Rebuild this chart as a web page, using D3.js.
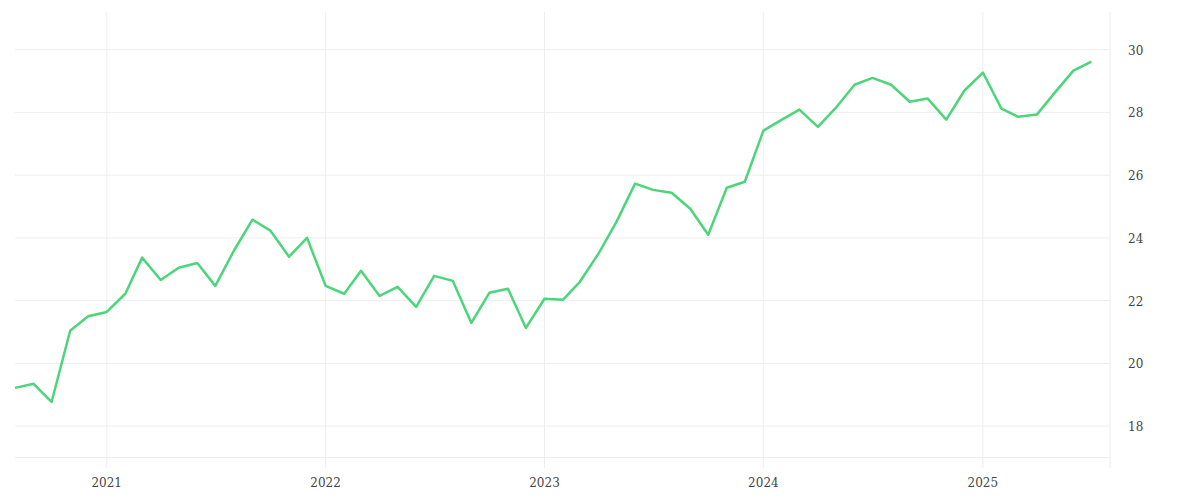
<!DOCTYPE html>
<html><head><meta charset="utf-8">
<script src="https://cdn.jsdelivr.net/npm/d3@7"></script>
<style>body{margin:0;background:#fff}</style>
</head><body><div id="chart"></div>
<script>
// monthly values, Aug 2020 .. Jul 2025
const startMonth = "2020-08";
const values = [19.22,19.35,18.77,21.04,21.5,
  21.64,22.22,23.37,22.66,23.05,23.2,22.47,23.59,24.58,24.23,23.4,24.0,
  22.47,22.22,22.95,22.15,22.44,21.8,22.79,22.63,21.29,22.25,22.38,21.13,
  22.06,22.03,22.6,23.5,24.51,25.73,25.53,25.44,24.93,24.1,25.6,25.79,
  27.42,27.77,28.09,27.54,28.15,28.88,29.1,28.88,28.34,28.44,27.77,28.69,
  29.27,28.12,27.86,27.93,28.63,29.33,29.62];
const yTicks = [18, 20, 22, 24, 26, 28, 30];
const xTicks = ["2021-01", "2022-01", "2023-01", "2024-01", "2025-01"];

const parse = d3.timeParse("%Y-%m");
const t0 = parse(startMonth);
const data = values.map((v, i) => ({date: d3.timeMonth.offset(t0, i), v: v}));

const W = 1200, H = 500;
const svg = d3.select("#chart").append("svg").attr("width", W).attr("height", H);

const x = d3.scaleTime()
  .domain([t0, d3.timeMonth.offset(t0, values.length)])
  .range([15, 1110]);
const y = d3.scaleLinear().domain([17, 31.2]).range([457.5, 12]);

// grid
svg.selectAll(".hg").data(yTicks).enter().append("line")
  .attr("x1", 15).attr("x2", 1110)
  .attr("y1", d => y(d)).attr("y2", d => y(d))
  .attr("stroke", "#eeeeee");
svg.append("line").attr("x1", 15).attr("x2", 1110)
  .attr("y1", y(17)).attr("y2", y(17)).attr("stroke", "#eeeeee");
svg.selectAll(".vg").data(xTicks).enter().append("line")
  .attr("x1", d => x(parse(d))).attr("x2", d => x(parse(d)))
  .attr("y1", 12).attr("y2", 468)
  .attr("stroke", "#eeeeee");
svg.append("line").attr("x1", 1110).attr("x2", 1110)
  .attr("y1", 12).attr("y2", 468).attr("stroke", "#eeeeee");

// labels
svg.selectAll(".yl").data(yTicks).enter().append("text")
  .attr("x", 1128).attr("y", d => y(d) + 5)
  .attr("font-family", "DejaVu Serif, serif").attr("font-size", 12)
  .attr("fill", "#444").text(d => d);
svg.selectAll(".xl").data(xTicks).enter().append("text")
  .attr("x", d => x(parse(d))).attr("y", 487)
  .attr("text-anchor", "middle")
  .attr("font-family", "DejaVu Serif, serif").attr("font-size", 12)
  .attr("fill", "#444").text(d => d.slice(0, 4));

// line
svg.append("path").datum(data)
  .attr("d", d3.line().x(d => x(d.date)).y(d => y(d.v)))
  .attr("fill", "none").attr("stroke", "#4cd57a").attr("stroke-width", 2.5)
  .attr("stroke-linejoin", "round");
</script></body></html>
